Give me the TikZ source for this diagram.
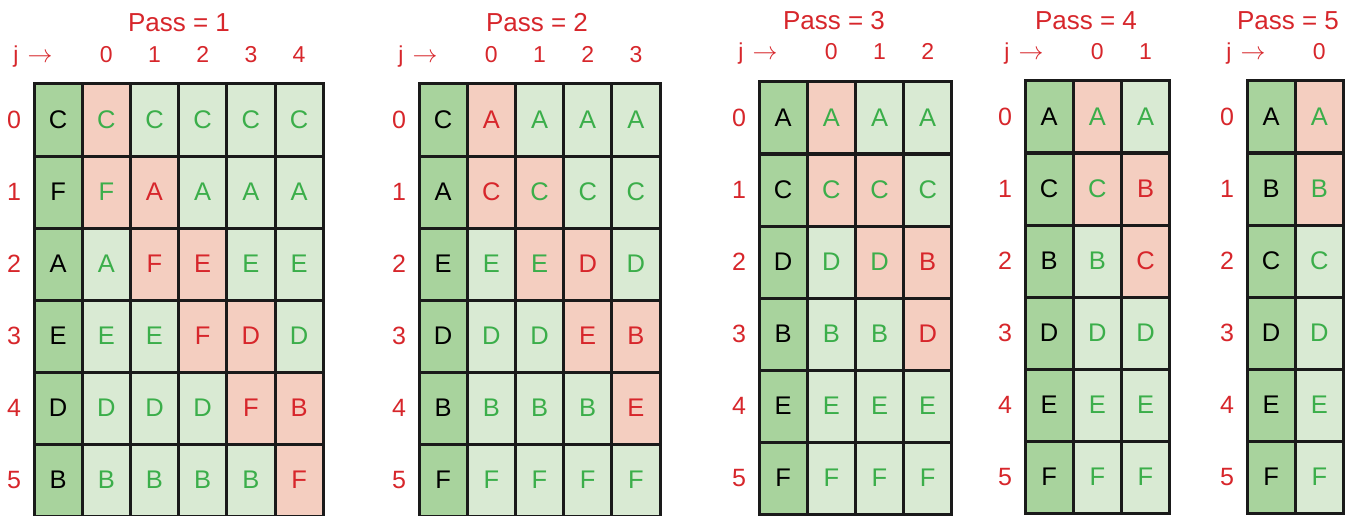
\documentclass[tikz,border=0pt]{standalone}
\usepackage{fontspec}
\setmainfont{Liberation Sans}
\definecolor{dkgreen}{HTML}{A8D39D}
\definecolor{ltgreen}{HTML}{D9EAD3}
\definecolor{pinkc}{HTML}{F4CEC0}
\definecolor{redtxt}{HTML}{D7262B}
\definecolor{greentxt}{HTML}{3BAE4A}
\definecolor{linec}{HTML}{1A1A1A}
\newcommand\gridrow[5]{%
  \foreach \L/\S [count=\c from 0] in {#5} {%
    \node[cellbox,\S] (#1-\c-#4) at ({#2+48.2*\c+24.1},{#3+72*#4+36}) {\L};}}
\newcommand\gridhead[8]{% id, x0, y0, ncols(inner), title x, title base, header base, title text
  \node[titlelab,anchor=base] (#1-title) at (#5,#6) {#8};
  \node[headlab,anchor=base] (#1-j) at ({#2-1},#7) {j\hspace{0.4em}$\rightarrow$};
  \foreach \k in {1,...,#4} {%
    \pgfmathtruncatemacro\kk{\k-1}%
    \node[headlab,anchor=base] (#1-h\kk) at ({#2+48.2*\k+24.1},#7) {\kk};}
  \foreach \r in {0,...,5} {%
    \node[rowlab] (#1-r\r) at ({#2-20},{#3+72*\r+36}) {\r};}}
\begin{document}
\begin{tikzpicture}[x=1pt,y=-1pt,
  cellbox/.style={draw=linec,line width=3pt,minimum width=48.2pt,minimum height=72pt,inner sep=0pt,anchor=center,font=\fontsize{25.5}{25.5}\selectfont},
  basecell/.style={fill=dkgreen,text=black},
  swapcell/.style={fill=pinkc,text=redtxt},
  samecell/.style={fill=pinkc,text=greentxt},
  okcell/.style={fill=ltgreen,text=greentxt},
  rowlab/.style={text=redtxt,inner sep=0pt,font=\fontsize{25}{25}\selectfont},
  headlab/.style={text=redtxt,inner sep=0pt,font=\fontsize{23}{23}\selectfont},
  titlelab/.style={text=redtxt,inner sep=0pt,font=\fontsize{26}{26}\selectfont}]
\useasboundingbox[fill=white] (0,0) rectangle (1357,516);
% Grid 1
\gridhead{g1}{34}{84}{5}{179}{32}{63}{Pass = 1}
\gridrow{g1}{34}{84}{0}{C/basecell,C/samecell,C/okcell,C/okcell,C/okcell,C/okcell}
\gridrow{g1}{34}{84}{1}{F/basecell,F/samecell,A/swapcell,A/okcell,A/okcell,A/okcell}
\gridrow{g1}{34}{84}{2}{A/basecell,A/okcell,F/swapcell,E/swapcell,E/okcell,E/okcell}
\gridrow{g1}{34}{84}{3}{E/basecell,E/okcell,E/okcell,F/swapcell,D/swapcell,D/okcell}
\gridrow{g1}{34}{84}{4}{D/basecell,D/okcell,D/okcell,D/okcell,F/swapcell,B/swapcell}
\gridrow{g1}{34}{84}{5}{B/basecell,B/okcell,B/okcell,B/okcell,B/okcell,F/swapcell}
% Grid 2
\gridhead{g2}{419}{84}{4}{537}{32}{63}{Pass = 2}
\gridrow{g2}{419}{84}{0}{C/basecell,A/swapcell,A/okcell,A/okcell,A/okcell}
\gridrow{g2}{419}{84}{1}{A/basecell,C/swapcell,C/samecell,C/okcell,C/okcell}
\gridrow{g2}{419}{84}{2}{E/basecell,E/okcell,E/samecell,D/swapcell,D/okcell}
\gridrow{g2}{419}{84}{3}{D/basecell,D/okcell,D/okcell,E/swapcell,B/swapcell}
\gridrow{g2}{419}{84}{4}{B/basecell,B/okcell,B/okcell,B/okcell,E/swapcell}
\gridrow{g2}{419}{84}{5}{F/basecell,F/okcell,F/okcell,F/okcell,F/okcell}
% Grid 3
\gridhead{g3}{759}{82}{3}{834}{30}{60}{Pass = 3}
\gridrow{g3}{759}{82}{0}{A/basecell,A/samecell,A/okcell,A/okcell}
\gridrow{g3}{759}{82}{1}{C/basecell,C/samecell,C/samecell,C/okcell}
\gridrow{g3}{759}{82}{2}{D/basecell,D/okcell,D/samecell,B/swapcell}
\gridrow{g3}{759}{82}{3}{B/basecell,B/okcell,B/okcell,D/swapcell}
\gridrow{g3}{759}{82}{4}{E/basecell,E/okcell,E/okcell,E/okcell}
\gridrow{g3}{759}{82}{5}{F/basecell,F/okcell,F/okcell,F/okcell}
% Grid 4
\gridhead{g4}{1025}{81}{2}{1086}{30}{60}{Pass = 4}
\gridrow{g4}{1025}{81}{0}{A/basecell,A/samecell,A/okcell}
\gridrow{g4}{1025}{81}{1}{C/basecell,C/samecell,B/swapcell}
\gridrow{g4}{1025}{81}{2}{B/basecell,B/okcell,C/swapcell}
\gridrow{g4}{1025}{81}{3}{D/basecell,D/okcell,D/okcell}
\gridrow{g4}{1025}{81}{4}{E/basecell,E/okcell,E/okcell}
\gridrow{g4}{1025}{81}{5}{F/basecell,F/okcell,F/okcell}
% Grid 5
\gridhead{g5}{1247}{81}{1}{1288}{30}{60}{Pass = 5}
\gridrow{g5}{1247}{81}{0}{A/basecell,A/samecell}
\gridrow{g5}{1247}{81}{1}{B/basecell,B/samecell}
\gridrow{g5}{1247}{81}{2}{C/basecell,C/okcell}
\gridrow{g5}{1247}{81}{3}{D/basecell,D/okcell}
\gridrow{g5}{1247}{81}{4}{E/basecell,E/okcell}
\gridrow{g5}{1247}{81}{5}{F/basecell,F/okcell}
\end{tikzpicture}
\end{document}
